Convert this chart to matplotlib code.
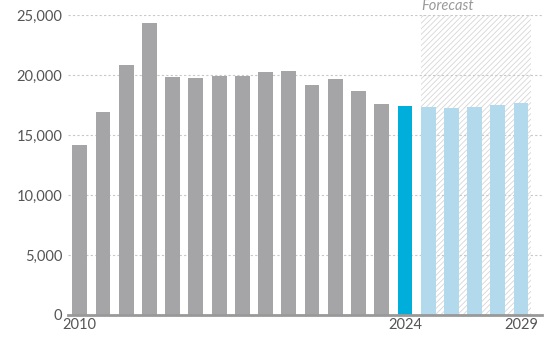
import matplotlib.pyplot as plt
from matplotlib.patches import Rectangle

years = list(range(2010, 2030))
values = [14200, 16900, 20800, 24300, 19800, 19750, 19900, 19900, 20250, 20300,
          19200, 19650, 18650, 17600, 17400, 17350, 17250, 17350, 17500, 17650]
tick_years = [2010, 2024, 2029]
y_ticks = [0, 5000, 10000, 15000, 20000, 25000]

gray = '#A5A5A7'
blue = '#00AEDB'
light = '#B3D9EC'
colors = [gray if y < 2024 else (blue if y == 2024 else light) for y in years]

plt.rcParams['font.family'] = ['Lato', 'DejaVu Sans']
plt.rcParams['hatch.color'] = '#D6D6D6'
plt.rcParams['hatch.linewidth'] = 0.6

fig = plt.figure(figsize=(5.57, 3.42), dpi=100)
ax = fig.add_axes([0.122, 0.079, 0.851, 0.877])

# forecast shading
ax.add_patch(Rectangle((2024.68, 0), 4.76, 25000, facecolor='white',
                       edgecolor='#D6D6D6', hatch='//////', linewidth=0, zorder=0))

ax.bar(years, values, width=0.64, color=colors, zorder=2)

ax.set_xlim(2009.49, 2029.9)
ax.set_ylim(0, 25000)
ax.set_yticks(y_ticks)
ax.set_yticklabels([f'{v:,}' for v in y_ticks])
ax.set_xticks(tick_years)
ax.set_xticklabels([str(y) for y in tick_years])
ax.tick_params(length=0, labelsize=10.5, colors='#555555', pad=4)
ax.tick_params(axis='x', pad=2)

ax.yaxis.grid(True, linestyle=(0, (2, 2)), color='#C8C8C8', linewidth=0.8, zorder=1)
ax.set_axisbelow(True)
for s in ['top', 'right', 'left']:
    ax.spines[s].set_visible(False)
ax.spines['bottom'].set_color('#999999')
ax.spines['bottom'].set_linewidth(2)
ax.spines['bottom'].set_zorder(3)

ax.text(2024.7, 25420, 'Forecast', ha='left', va='baseline', style='italic',
        fontsize=10.5, color='#999999', clip_on=False)

fig.savefig('out.png', dpi=100)
